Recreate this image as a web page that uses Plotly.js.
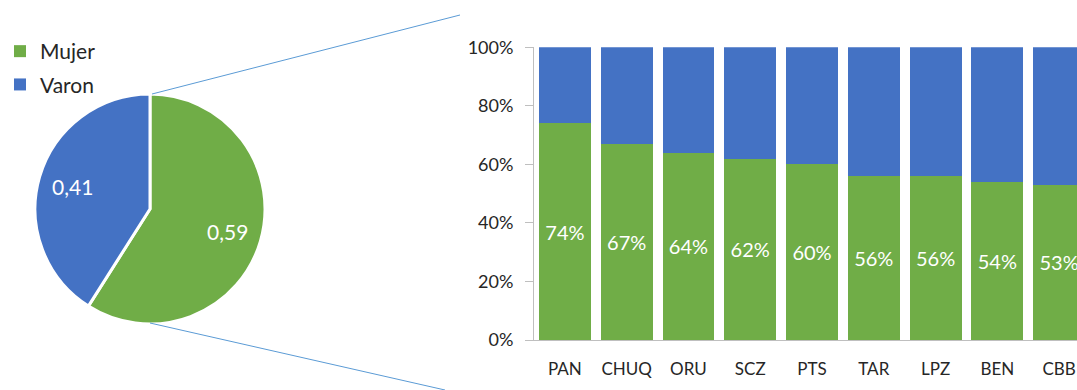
<!DOCTYPE html>
<html>
<head>
<meta charset="utf-8">
<script src="https://cdn.plot.ly/plotly-3.0.1.min.js"></script>
<style>
  html, body { margin: 0; padding: 0; background: #fff; }
  #chart { width: 1077px; height: 390px; }
</style>
</head>
<body>
<div id="chart"></div>
<script>
// Overall share by sex
const pieLabels = ['Mujer', 'Varon'];
const pieValues = [0.59, 0.41];

// Share of women / men by department (%)
const departments = ['PAN', 'CHUQ', 'ORU', 'SCZ', 'PTS', 'TAR', 'LPZ', 'BEN', 'CBB'];
const mujerPct = [74, 67, 64, 62, 60, 56, 56, 54, 53];
const varonPct = mujerPct.map(v => 100 - v);

const yTickVals = [0, 20, 40, 60, 80, 100];
const yTickText = ['0%', '20%', '40%', '60%', '80%', '100%'];

const GREEN = '#70AD47';
const BLUE = '#4472C4';
const FONT = 'Lato, "Open Sans", sans-serif';
const W = 1077, H = 390;

// pixel -> paper helpers (margins are zero, so paper spans the page)
const px = x => x / W;
const py = y => 1 - y / H;

// pie geometry (pixels)
const PIE = { cx: 150, cy: 209, r: 115 };

// value labels placed at the mid-angle of each slice (clockwise from 12 o'clock)
const total = pieValues.reduce((a, b) => a + b, 0);
let acc = 0;
const pieAnnotations = pieValues.map(v => {
  const mid = (acc + v / 2) / total * 2 * Math.PI;
  acc += v;
  const rr = PIE.r * 0.7;
  return {
    xref: 'paper', yref: 'paper',
    x: px(PIE.cx + rr * Math.sin(mid)),
    y: py(PIE.cy - rr * Math.cos(mid)),
    text: v.toFixed(2).replace('.', ','),
    showarrow: false,
    xanchor: 'center', yanchor: 'middle',
    font: { family: FONT, size: 21, color: '#ffffff' }
  };
});

const traces = [
  {
    type: 'pie',
    labels: pieLabels,
    values: pieValues,
    sort: false,
    direction: 'clockwise',
    rotation: 0,
    marker: { colors: [GREEN, BLUE], line: { color: '#ffffff', width: 3 } },
    textinfo: 'none',
    domain: { x: [px(PIE.cx - PIE.r), px(PIE.cx + PIE.r)], y: [py(PIE.cy + PIE.r), py(PIE.cy - PIE.r)] },
    showlegend: false,
    hoverinfo: 'skip'
  },
  {
    type: 'bar',
    name: 'Mujer',
    legendgroup: 'm',
    x: departments,
    y: mujerPct,
    marker: { color: GREEN },
    text: mujerPct.map(v => v + '%'),
    textposition: 'inside',
    insidetextanchor: 'middle',
    textangle: 0,
    constraintext: 'none',
    textfont: { family: FONT, size: 20, color: '#ffffff' },
    hoverinfo: 'skip'
  },
  {
    type: 'bar',
    name: 'Varon',
    legendgroup: 'v',
    x: departments,
    y: varonPct,
    marker: { color: BLUE },
    textposition: 'none',
    hoverinfo: 'skip'
  }
];

const layout = {
  width: W,
  height: H,
  margin: { l: 0, r: 0, t: 0, b: 0, pad: 0 },
  paper_bgcolor: '#ffffff',
  plot_bgcolor: '#ffffff',
  separators: ',.',
  barmode: 'stack',
  bargap: 0.16,
  font: { family: FONT, color: '#404040' },
  showlegend: true,
  legend: {
    x: 0, y: py(31), xanchor: 'left', yanchor: 'top',
    traceorder: 'grouped',
    tracegroupgap: 3,
    font: { family: FONT, size: 21, color: '#262626' },
    itemwidth: 30,
    bgcolor: 'rgba(0,0,0,0)'
  },
  xaxis: {
    domain: [px(534), 1],
    range: [-0.5, (W - 564.7) / 61.8],
    type: 'category',
    showgrid: false,
    showline: true,
    linecolor: '#bfbfbf',
    linewidth: 1,
    ticks: '',
    ticklabelstandoff: 14,
    tickfont: { family: FONT, size: 17, color: '#262626' },
    zeroline: false,
    fixedrange: true
  },
  yaxis: {
    domain: [py(340), py(47.3)],
    range: [0, 100],
    tickvals: yTickVals,
    ticktext: yTickText,
    showgrid: false,
    showline: true,
    linecolor: '#bfbfbf',
    linewidth: 1,
    ticks: 'outside',
    ticklen: 8,
    tickcolor: '#bfbfbf',
    ticklabelstandoff: 8,
    tickfont: { family: FONT, size: 18, color: '#262626' },
    zeroline: false,
    fixedrange: true
  },
  annotations: pieAnnotations,
  shapes: [
    { type: 'line', xref: 'paper', yref: 'paper', x0: px(152), y0: py(94), x1: px(460), y1: py(15),
      line: { color: '#5B9BD5', width: 1 } },
    { type: 'line', xref: 'paper', yref: 'paper', x0: px(150), y0: py(323), x1: px(445), y1: py(390),
      line: { color: '#5B9BD5', width: 1 } }
  ]
};

Plotly.newPlot('chart', traces, layout, { staticPlot: true, displayModeBar: false });
</script>
</body>
</html>
